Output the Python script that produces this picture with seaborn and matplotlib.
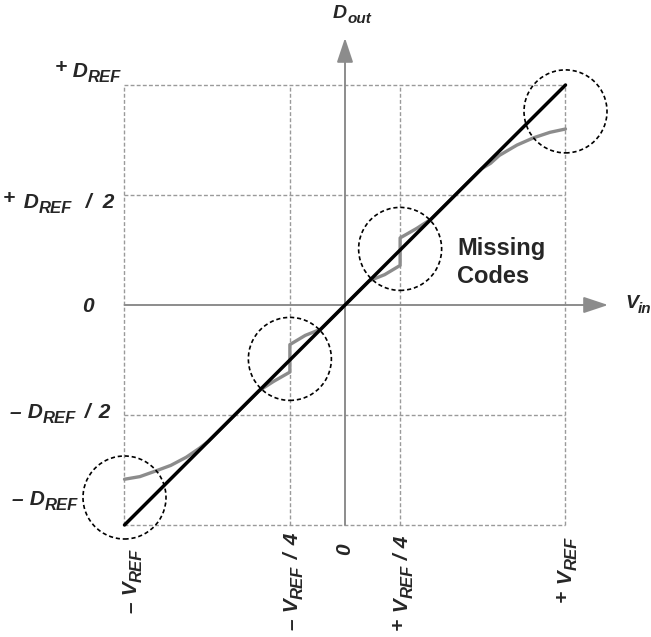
import matplotlib
matplotlib.use("Agg")
import matplotlib.pyplot as plt
import seaborn as sns
from matplotlib.patches import Ellipse

# Normalized transfer characteristic: input V/V_REF, output D/D_REF
ideal_vin = [-1.0, 1.0]
ideal_dout = [-1.0, 1.0]

real_vin = [-1.0, -0.93, -0.86, -0.79, -0.72, -0.66, -0.62, -0.39, -0.325, -0.25,
            -0.25, -0.18, -0.11, 0.0, 0.11, 0.18, 0.25, 0.25, 0.325, 0.39,
            0.62, 0.66, 0.70, 0.78, 0.855, 0.93, 1.0]
real_dout = [-0.792, -0.78, -0.755, -0.729, -0.692, -0.651, -0.62, -0.39, -0.348, -0.305,
             -0.18, -0.138, -0.11, 0.0, 0.11, 0.138, 0.18, 0.305, 0.348, 0.39,
             0.62, 0.644, 0.68, 0.727, 0.76, 0.785, 0.80]

grid_vin = [-1.0, -0.25, 0.25, 1.0]
grid_dout = [-1.0, -0.5, 0.5, 1.0]

# regions highlighted with dashed circles
mark_vin = [-1.0, -0.25, 0.25, 1.0]
mark_dout = [-0.875, -0.245, 0.255, 0.88]

FIG_W, FIG_H = 651, 637
X_LEFT, X_RIGHT = -1 - 124.5 / 220.5, 1 + 85.5 / 220.5
Y_BOTTOM, Y_TOP = -(FIG_H - 305) / 220.0, 305 / 220.0

sns.set_style("white")
plt.rcParams["font.family"] = ["Liberation Sans", "DejaVu Sans"]

fig = plt.figure(figsize=(FIG_W / 100, FIG_H / 100), dpi=100)
ax = fig.add_axes([0, 0, 1, 1])
ax.set_xlim(X_LEFT, X_RIGHT)
ax.set_ylim(Y_BOTTOM, Y_TOP)
ax.axis("off")

GRID_C = "#9a9a9a"
AXIS_C = "#8c8c8c"

# dashed reference grid
ax.vlines(grid_vin, -1, 1, colors=GRID_C, linewidth=1.0,
          linestyles=[(0, (2.8, 1.6))], zorder=1)
ax.hlines(grid_dout, -1, 1, colors=GRID_C, linewidth=1.0,
          linestyles=[(0, (2.8, 1.6))], zorder=1)

# axes with arrow heads
arrow = dict(arrowstyle="-|>,head_length=1.5,head_width=0.5", mutation_scale=10,
             color=AXIS_C, lw=1.4, shrinkA=0, shrinkB=0)
ax.annotate("", xy=(1.193, 0), xytext=(-1, 0), arrowprops=arrow, zorder=2)
ax.annotate("", xy=(0, 1.214), xytext=(0, -1), arrowprops=arrow, zorder=2)

# real (with missing codes) and ideal characteristics
sns.lineplot(x=real_vin, y=real_dout, sort=False, estimator=None, color="#8c8c8c",
             linewidth=2.4, ax=ax, zorder=3)
sns.lineplot(x=ideal_vin, y=ideal_dout, sort=False, estimator=None, color="black",
             linewidth=2.5, ax=ax, zorder=4)

for cx, cy in zip(mark_vin, mark_dout):
    ax.add_patch(Ellipse((cx, cy), 83 / 220.5, 83 / 220.0, fill=False, edgecolor="black",
                         linewidth=1.2, linestyle=(0, (2.5, 1.7)), zorder=5))

renderer = fig.canvas.get_renderer()
FONT = dict(family="Liberation Sans", weight="bold", style="italic")
MAIN, SUB = 15, 12
DROP = 5


def place_label(x0, y0, parts, rotation=0):
    """Draw a label piece by piece starting at pixel (x0, y0) measured from top-left.

    Each part is (text, fontsize, baseline drop in px, extra gap before it in px).
    """
    pos = 0.0
    for s, size, drop, gap in parts:
        pos += gap
        if rotation == 0:
            px, py = x0 + pos, FIG_H - (y0 + drop)
        else:
            px, py = x0 + drop, FIG_H - (y0 - pos)
        t = fig.text(px / FIG_W, py / FIG_H, s, fontsize=size, rotation=rotation,
                     rotation_mode="anchor", ha="left", va="baseline", **FONT)
        bb = t.get_window_extent(renderer)
        pos += bb.width if rotation == 0 else bb.height


def ref_label(sign, letter, suffix="", gaps=(0, 0, 0)):
    # a raised plus sign, or an en dash on the baseline
    sign_part = (sign, MAIN, -4 if sign == "+" else 0, 0)
    parts = [sign_part, (f" {letter}", MAIN, 0, gaps[0]), ("REF", SUB, DROP, 0)]
    if suffix:
        parts.append((" /", MAIN, 0, gaps[1]))
        parts.append((f" {suffix}", MAIN, 0, gaps[2]))
    return parts


# output (vertical) tick labels
place_label(55, 77, ref_label("+", "D"))
place_label(3, 208, ref_label("+", "D", "2", gaps=(3, 8, 5)))
place_label(82, 312, [("0", MAIN, 0, 0)])
place_label(10, 418, ref_label("–", "D", "2", gaps=(0, 3, 3)))
place_label(12, 505, ref_label("–", "D"))

# input (horizontal) tick labels, rotated
place_label(137, 613, ref_label("–", "V"), rotation=90)
place_label(298, 630, ref_label("–", "V", "4", gaps=(0, 2, 2)), rotation=90)
place_label(350, 555, [("0", MAIN, 0, 0)], rotation=90)
place_label(408, 630, ref_label("+", "V", "4"), rotation=90)
place_label(572, 602, ref_label("+", "V"), rotation=90)

# axis titles
place_label(333, 18, [("D", 14, 0, 0), ("out", 11, 5, 0)])
place_label(625, 308, [("V", 14, 0, 0), ("in", 11, 5, 0)])

fig.text(457 / FIG_W, (FIG_H - 255) / FIG_H, "Missing", fontsize=17,
         family="Liberation Sans", weight="bold", ha="left", va="baseline")
fig.text(457 / FIG_W, (FIG_H - 283) / FIG_H, "Codes", fontsize=17,
         family="Liberation Sans", weight="bold", ha="left", va="baseline")

fig.savefig("out.png", dpi=100)
